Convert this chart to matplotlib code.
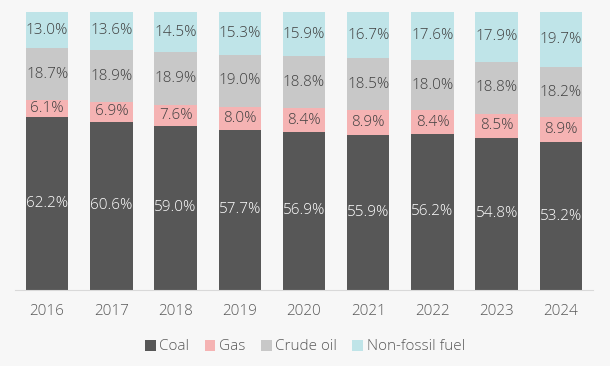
import matplotlib.pyplot as plt
import numpy as np

plt.rcParams['font.family'] = ['Open Sans', 'DejaVu Sans']
plt.rcParams['font.weight'] = 'light'

years = ['2016', '2017', '2018', '2019', '2020', '2021', '2022', '2023', '2024']
coal = [62.2, 60.6, 59.0, 57.7, 56.9, 55.9, 56.2, 54.8, 53.2]
gas = [6.1, 6.9, 7.6, 8.0, 8.4, 8.9, 8.4, 8.5, 8.9]
crude = [18.7, 18.9, 18.9, 19.0, 18.8, 18.5, 18.0, 18.8, 18.2]
nonfossil = [13.0, 13.6, 14.5, 15.3, 15.9, 16.7, 17.6, 17.9, 19.7]

series = [('Coal', coal, '#575757', 'white'),
          ('Gas', gas, '#f5b3b3', '#404040'),
          ('Crude oil', crude, '#c8c8c8', '#404040'),
          ('Non-fossil fuel', nonfossil, '#bfe4e8', '#404040')]

bg = '#f7f7f7'
fig = plt.figure(figsize=(6.10, 3.66), dpi=100, facecolor=bg)
ax = fig.add_axes([15/610, 1 - 290/366, 578/610, 278/366], facecolor=bg)

x = np.arange(len(years))
bottom = np.zeros(len(years))
for name, vals, col, tcol in series:
    vals = np.array(vals)
    ax.bar(x, vals, 0.66, bottom=bottom, color=col, label=name)
    for xi, b, v in zip(x, bottom, vals):
        ax.text(xi, b + v / 2, f'{v:.1f}%', ha='center', va='center',
                fontsize=11, color=tcol)
    bottom += vals

ax.set_xlim(-0.5, 8.5)
ax.set_ylim(0, 100)
ax.set_xticks(x)
ax.set_xticklabels(years, fontsize=11, color='#595959')
ax.set_yticks([])
for s in ['top', 'right', 'left']:
    ax.spines[s].set_visible(False)
ax.spines['bottom'].set_color('#d9d9d9')
ax.tick_params(axis='x', length=0, pad=10)

fig.legend(loc='center', bbox_to_anchor=(0.5, 1 - 347/366), ncol=4, frameon=False,
           fontsize=11, labelcolor='#595959', handlelength=0.7, handleheight=0.7,
           handletextpad=0.25, columnspacing=1.0)

fig.savefig('out.png', dpi=100, facecolor=bg)
